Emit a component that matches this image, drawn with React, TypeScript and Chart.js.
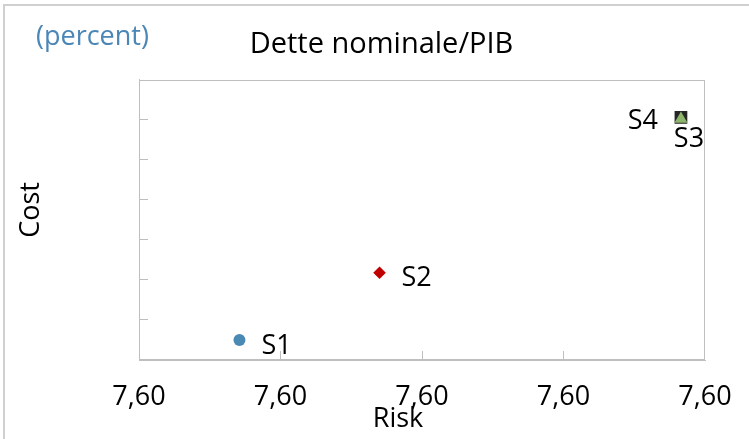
import React, { useEffect, useRef } from 'react';
import { Chart, registerables } from 'chart.js';

Chart.register(...registerables);

// ---- data ----
const seriesNames = ['S1', 'S2', 'S3', 'S4'];
const riskValues = [7.60071, 7.6017, 7.60383, 7.60383];
const costValues = [0.5, 2.18, 6.02, 6.06];
const riskMin = 7.6;
const riskMax = 7.604;
const riskStep = 0.001;
const costMin = 0;
const costMax = 7;
const costStep = 1;
const chartTitle = 'Dette nominale/PIB';
const unitLabel = '(percent)';
const xTitle = 'Risk';
const yTitle = 'Cost';

// ---- styles ----
const seriesColors = ['#4a89b4', '#c00000', '#8db56c', '#262626'];
const seriesShapes = ['circle', 'rectRot', 'triangle', 'rect'];
const seriesRadii = [6, 6.3, 7.5, 9];
const labelSides = ['right', 'right', 'below', 'left'];

const FONT = '"Open Sans", "Noto Sans", sans-serif';
const GRID = '#bfbfbf';

const innerTickColor = (n: number) => (c: any) =>
  c.index === 0 || c.index === n ? 'rgba(0,0,0,0)' : GRID;

const decorPlugin = {
  id: 'decor',
  beforeDraw(chart: any) {
    const ctx = chart.ctx;
    ctx.save();
    ctx.fillStyle = '#d0d0d0';
    ctx.fillRect(3, 4, 2, chart.height - 4);
    ctx.fillRect(3, 4, chart.width - 3, 2);
    ctx.restore();
  },
  afterDraw(chart: any) {
    const ctx = chart.ctx;
    const a = chart.chartArea;
    ctx.save();
    ctx.strokeStyle = GRID;
    ctx.lineWidth = 1;
    ctx.strokeRect(Math.round(a.left) + 0.5, Math.round(a.top) + 0.5, Math.round(a.right - a.left) - 1, Math.round(a.bottom - a.top) - 1);

    // unit label
    ctx.fillStyle = '#4a86b6';
    ctx.font = `27px ${FONT}`;
    ctx.textAlign = 'left';
    ctx.textBaseline = 'middle';
    ctx.fillText(unitLabel, 36, 37);

    // axis titles
    ctx.fillStyle = '#000';
    ctx.font = `27px ${FONT}`;
    ctx.textAlign = 'center';
    ctx.fillText(xTitle, 398, 419);
    ctx.save();
    ctx.translate(31, 210);
    ctx.rotate(-Math.PI / 2);
    ctx.fillText(yTitle, 0, 0);
    ctx.restore();

    // data labels
    ctx.font = `27px ${FONT}`;
    chart.data.datasets.forEach((ds: any, i: number) => {
      const el = chart.getDatasetMeta(i).data[0];
      if (!el) return;
      const side = labelSides[i];
      if (side === 'right') {
        ctx.textAlign = 'left';
        ctx.fillText(ds.label, el.x + 22, el.y + 6);
      } else if (side === 'left') {
        ctx.textAlign = 'right';
        ctx.fillText(ds.label, el.x - 23, el.y + 4);
      } else {
        ctx.textAlign = 'center';
        ctx.fillText(ds.label, el.x + 8, el.y + 20);
      }
    });
    ctx.restore();
  },
};

export default function App() {
  const ref = useRef<HTMLCanvasElement>(null);
  useEffect(() => {
    if (!ref.current) return;
    const datasets = seriesNames.map((name, i) => ({
      label: name,
      data: [{ x: riskValues[i], y: costValues[i] }],
      backgroundColor: seriesColors[i],
      borderColor: seriesColors[i],
      pointStyle: seriesShapes[i] as any,
      pointRadius: seriesRadii[i],
      pointBorderWidth: 0,
    }));
    const chart = new Chart(ref.current, {
      type: 'scatter',
      data: { datasets },
      plugins: [decorPlugin],
      options: {
        responsive: false,
        animation: false,
        layout: { padding: { left: 58, right: 44, top: 0, bottom: 0 } },
        plugins: {
          legend: { display: false },
          tooltip: { enabled: false },
          title: {
            display: true,
            text: chartTitle,
            color: '#000',
            font: { family: FONT, size: 29, weight: 'normal' },
            padding: { top: 27, bottom: 18 },
          },
        },
        scales: {
          x: {
            type: 'linear',
            min: riskMin,
            max: riskMax,
            afterFit: (s: any) => { s.height = 79; s.paddingLeft = 0; s.paddingRight = 0; },
            ticks: {
              stepSize: riskStep,
              color: '#000',
              padding: 30,
              font: { family: FONT, size: 27 },
              callback: (v: any) => Number(v).toFixed(2).replace('.', ','),
            },
            grid: { drawOnChartArea: false, drawTicks: true, tickLength: -9, color: innerTickColor(4) },
            border: { display: true, color: GRID },
          },
          y: {
            type: 'linear',
            min: costMin,
            max: costMax,
            afterFit: (s: any) => { s.width = 81; s.paddingTop = 0; s.paddingBottom = 0; },
            ticks: { stepSize: costStep, display: false },
            grid: { drawOnChartArea: false, drawTicks: true, tickLength: -9, color: innerTickColor(7) },
            border: { display: true, color: GRID },
          },
        },
      },
    });
    return () => chart.destroy();
  }, []);
  return (
    <div style={{ position: 'absolute', left: 0, top: 0, width: 749, height: 439, background: '#fff' }}>
      <canvas ref={ref} width={749} height={439} />
    </div>
  );
}
